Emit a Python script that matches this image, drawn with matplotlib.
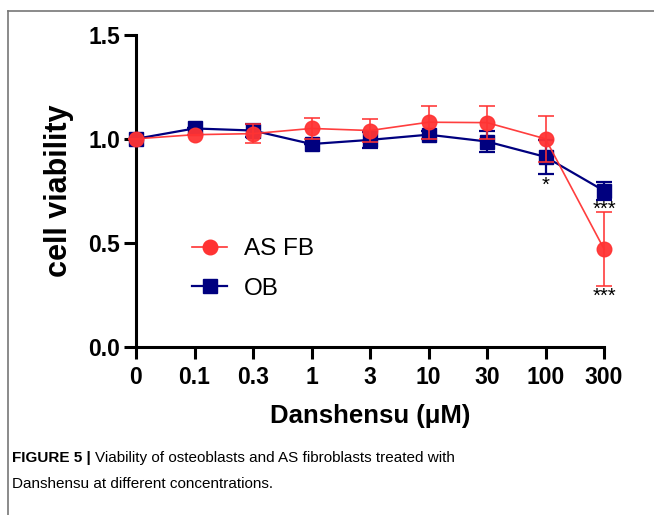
import matplotlib
matplotlib.use("Agg")
import matplotlib.pyplot as plt
from matplotlib.lines import Line2D
import numpy as np

plt.rcParams['font.family'] = ['Liberation Sans', 'DejaVu Sans']

categories = ["0", "0.1", "0.3", "1", "3", "10", "30", "100", "300"]
asfb_mean = [1.00, 1.02, 1.025, 1.05, 1.04, 1.08, 1.078, 1.00, 0.47]
asfb_err = [0.0, 0.0, 0.045, 0.05, 0.055, 0.08, 0.08, 0.11, 0.177]
ob_mean = [1.00, 1.05, 1.04, 0.975, 0.995, 1.02, 0.987, 0.913, 0.75]
ob_err = [0.0, 0.0, 0.03, 0.0, 0.04, 0.02, 0.052, 0.083, 0.043]
stars = [(7, 0.748, "*"), (8, 0.633, "***"), (8, 0.213, "***")]

RED = "#ff3333"
BLUE = "#00007f"

W, H = 654, 515
fig = plt.figure(figsize=(W / 100, H / 100), dpi=100)
ax = fig.add_axes([136 / W, 1 - 346.5 / H, (604 - 136) / W, (346.5 - 35) / H])

x = np.arange(len(categories))
ax.errorbar(x, ob_mean, yerr=ob_err, color=BLUE, marker='s', markersize=9.5,
            lw=1.6, elinewidth=1.6, capsize=6, capthick=1.6, clip_on=False, zorder=3,
            label="OB")
ax.errorbar(x, asfb_mean, yerr=asfb_err, color=RED, marker='o', markersize=10.5,
            lw=1.2, elinewidth=1.2, capsize=6, capthick=1.2, clip_on=False, zorder=4,
            alpha=0.95, label="AS FB")

for xi, yi, s in stars:
    ax.text(xi, yi, s, ha='center', va='baseline', fontsize=14.5, color='black')

ax.set_xlim(0, 8)
ax.set_ylim(0, 1.5)
ax.set_xticks(x)
ax.set_xticklabels(categories)
ax.set_yticks([0.0, 0.5, 1.0, 1.5])
ax.set_yticklabels(["0.0", "0.5", "1.0", "1.5"])
for lab in ax.get_xticklabels() + ax.get_yticklabels():
    lab.set_fontweight('bold')
    lab.set_fontsize(16.5)
ax.tick_params(axis='both', width=2.2, length=8.5, color='black', pad=3)
ax.tick_params(axis='x', pad=5.5)
for side in ['top', 'right']:
    ax.spines[side].set_visible(False)
for side in ['left', 'bottom']:
    ax.spines[side].set_linewidth(2.2)

ax.set_ylabel("cell viability", fontsize=22, fontweight='bold', labelpad=10)
ax.set_xlabel("Danshensu (μM)", fontsize=18.5, fontweight='bold', labelpad=11)

handles = [Line2D([], [], color=RED, marker='o', markersize=10.5, lw=1.2),
           Line2D([], [], color=BLUE, marker='s', markersize=9.5, lw=1.6)]
fig.legend(handles, ["AS FB", "OB"], loc='center left',
           bbox_to_anchor=(192 / W, 1 - 269 / H), frameon=False, fontsize=17.5,
           handlelength=1.45, handletextpad=0.7, labelspacing=0.72,
           borderpad=0, borderaxespad=0)

# frame lines
fig.add_artist(Line2D([8 / W, 1], [1 - 11 / H, 1 - 11 / H], transform=fig.transFigure,
                      color='#777777', lw=1.2))
fig.add_artist(Line2D([8 / W, 8 / W], [1 - 11 / H, 0], transform=fig.transFigure,
                      color='#777777', lw=1.2))

# caption
cap_fam = ['Liberation Sans Narrow', 'Liberation Sans', 'DejaVu Sans']
t1 = fig.text(12 / W, 1 - 458 / H, "FIGURE 5 | ", fontsize=11, fontweight='bold',
              family=cap_fam, va='center', ha='left')
fig.canvas.draw()
bb = t1.get_window_extent()
fig.text(bb.x1 / W, 1 - 458 / H, "Viability of osteoblasts and AS fibroblasts treated with",
         fontsize=11, family=cap_fam, va='center', ha='left')
fig.text(12 / W, 1 - 484 / H, "Danshensu at different concentrations.",
         fontsize=11, family=cap_fam, va='center', ha='left')

fig.savefig("out.png", dpi=100)
